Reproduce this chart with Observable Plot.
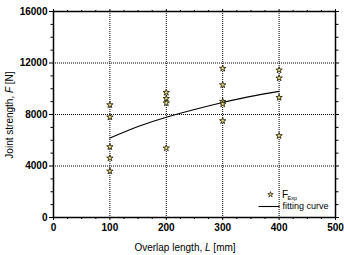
<!DOCTYPE html>
<html>
<head>
<meta charset="utf-8">
<script src="https://cdn.jsdelivr.net/npm/d3@7"></script>
<script src="https://cdn.jsdelivr.net/npm/@observablehq/plot@0.6"></script>
<style>
  html, body { margin: 0; padding: 0; background: #fff; }
  svg { display: block; }
</style>
</head>
<body>
<div id="chart"></div>
<script>
// Experimental joint strength per overlap length
const lengthExp = [100, 100, 100, 100, 100, 200, 200, 200, 200, 300, 300, 300, 300, 300, 400, 400, 400, 400];
const forceExp = [8750, 7800, 5490, 4610, 3600, 9710, 9240, 8890, 5390, 11580, 10300, 9010, 8810, 7510, 11450, 10830, 9320, 6350];

// Fitting curve through the experimental results
const lengthFit = [100, 150, 200, 250, 300, 350, 400];
const forceFit = [6170, 7070, 7790, 8390, 8930, 9410, 9800];

// Axis ticks
const xMajor = [0, 100, 200, 300, 400, 500];
const xGrid = [100, 200, 300, 400];
const yMajor = [0, 4000, 8000, 12000, 16000];
const yGrid = [4000, 8000, 12000];

const xMinor = d3.range(0, 501, 25).filter(v => !xMajor.includes(v));
const yMinor = d3.range(0, 16001, 1000).filter(v => !yMajor.includes(v));

const expData = lengthExp.map((L, i) => ({L, F: forceExp[i]}));
const fitData = lengthFit.map((L, i) => ({L, F: forceFit[i]}));

const FONT = "Liberation Sans, Arial, Helvetica, sans-serif";
const starFill = "#ece184";
const starStroke = "#2b2a12";

// Axis titles and the in-plot legend
function annotations(index, scales, values, dim) {
  const g = d3.create("svg:g")
    .attr("font-family", FONT)
    .attr("text-anchor", "start")
    .attr("fill", "#000");
  const right = dim.width - dim.marginRight;
  const bottom = dim.height - dim.marginBottom;

  const xt = g.append("text")
    .attr("x", 185).attr("y", 250.5)
    .attr("text-anchor", "middle")
    .attr("font-size", 10);
  xt.append("tspan").text("Overlap length, ");
  xt.append("tspan").attr("font-style", "italic").text("L");
  xt.append("tspan").text(" [mm]");

  const yt = g.append("text")
    .attr("transform", `translate(13,${(dim.marginTop + bottom) / 2 + 1}) rotate(-90)`)
    .attr("text-anchor", "middle")
    .attr("font-size", 10);
  yt.append("tspan").text("Joint strength, ");
  yt.append("tspan").attr("font-style", "italic").text("F");
  yt.append("tspan").text(" [N]");

  // legend: star entry
  g.append("path")
    .attr("d", d3.symbol(d3.symbolStar, 9)())
    .attr("transform", `translate(${right - 64.5},${bottom - 22.5})`)
    .attr("fill", starFill)
    .attr("stroke", starStroke)
    .attr("stroke-width", 0.8);
  g.append("text")
    .attr("x", right - 53).attr("y", bottom - 19.5)
    .attr("font-size", 10)
    .text("F");
  g.append("text")
    .attr("x", right - 47.5).attr("y", bottom - 17.5)
    .attr("font-size", 5.5)
    .text("Exp");

  // legend: curve entry
  g.append("line")
    .attr("x1", right - 76.5).attr("x2", right - 55.5)
    .attr("y1", bottom - 10.5).attr("y2", bottom - 10.5)
    .attr("stroke", "#000")
    .attr("stroke-width", 1.1);
  g.append("text")
    .attr("x", right - 52.5).attr("y", bottom - 8)
    .attr("font-size", 9)
    .text("fitting curve");
  return g.node();
}

const plot = Plot.plot({
  width: 344,
  height: 255,
  marginLeft: 53,
  marginRight: 9,
  marginTop: 11,
  marginBottom: 38,
  style: {fontFamily: FONT, background: "#fff", color: "#000"},
  x: {domain: [0, 500]},
  y: {domain: [0, 16000]},
  marks: [
    Plot.gridX(xGrid, {stroke: "#000", strokeOpacity: 1, strokeWidth: 1, strokeDasharray: "1,1"}),
    Plot.gridY(yGrid, {stroke: "#000", strokeOpacity: 1, strokeWidth: 1, strokeDasharray: "1,1"}),
    Plot.line(fitData, {x: "L", y: "F", stroke: "#000", strokeWidth: 1.2, curve: "natural"}),
    Plot.dot(expData, {x: "L", y: "F", symbol: "star", r: 2, fill: starFill, stroke: starStroke, strokeWidth: 0.9}),
    Plot.frame({stroke: "#000", strokeWidth: 1.5}),
    // bottom axis
    Plot.axisX(xMajor, {anchor: "bottom", tickSize: 3, tickPadding: 3, fontSize: 10, fontWeight: "bold", label: null, tickFormat: d => String(d)}),
    Plot.axisX(xMinor, {anchor: "bottom", tickSize: 2, text: null, label: null}),
    // top axis
    Plot.axisX(xMajor, {anchor: "top", tickSize: 3, text: null, label: null}),
    Plot.axisX(xMinor, {anchor: "top", tickSize: 2, text: null, label: null}),
    // left axis
    Plot.axisY(yMajor, {anchor: "left", tickSize: 4, tickPadding: 2, fontSize: 10, fontWeight: "bold", label: null, tickFormat: d => String(d)}),
    Plot.axisY(yMinor, {anchor: "left", tickSize: 2.5, text: null, label: null}),
    // right axis
    Plot.axisY(yMajor, {anchor: "right", tickSize: 3, text: null, label: null}),
    Plot.axisY(yMinor, {anchor: "right", tickSize: 2.5, text: null, label: null}),
    annotations
  ]
});

document.getElementById("chart").appendChild(plot);
</script>
</body>
</html>
